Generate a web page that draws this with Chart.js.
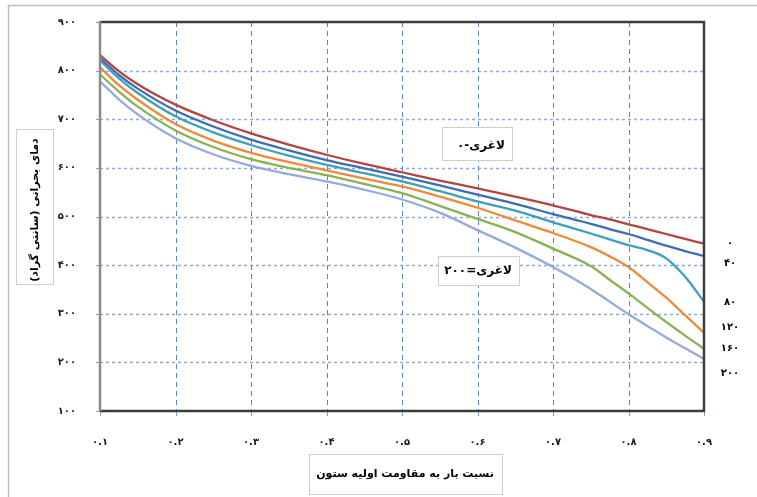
<!DOCTYPE html>
<html>
<head>
<meta charset="utf-8">
<script src="https://cdn.jsdelivr.net/npm/chart.js@4/dist/chart.umd.min.js"></script>
<style>
  html, body { margin: 0; padding: 0; background: #fff; }
  #wrap { width: 757px; height: 497px; }
</style>
</head>
<body>
<div id="wrap"><canvas id="c" width="757" height="497"></canvas></div>
<script>
// نسبت بار به مقاومت اولیه ستون
const loadRatio = [0.1, 0.125, 0.15, 0.2, 0.25, 0.3, 0.35, 0.4, 0.45, 0.5, 0.55, 0.6, 0.65, 0.7, 0.75, 0.775, 0.8, 0.825, 0.85, 0.875, 0.9];
// لاغری
const slenderness = [0, 40, 80, 120, 160, 200];
const temp0 = [832, 799, 772, 730, 698, 671, 648, 627, 608, 591, 574, 558, 541, 523, 503, 494, 484, 474, 464, 454, 444];
const temp40 = [826, 791, 763, 718, 685, 658, 636, 616, 599, 582, 564, 545, 526, 505, 485, 474, 464, 452, 440, 429, 419];
const temp80 = [821, 784, 754, 706, 673, 647, 625, 606, 589, 572, 552, 531, 512, 488, 465, 453, 441, 431, 414, 376, 325];
const temp120 = [807, 770, 740, 690, 656, 631, 612, 595, 578, 562, 541, 518, 492, 466, 437, 418, 396, 365, 333, 297, 261];
const temp160 = [792, 757, 726, 677, 643, 618, 600, 585, 567, 548, 522, 495, 468, 434, 398, 370, 342, 312, 283, 255, 228];
const temp200 = [778, 741, 710, 661, 628, 604, 587, 572, 555, 535, 508, 472, 436, 396, 351, 325, 299, 275, 251, 229, 207];
const xTicks = [0.1, 0.2, 0.3, 0.4, 0.5, 0.6, 0.7, 0.8, 0.9];
const yTicks = [100, 200, 300, 400, 500, 600, 700, 800, 900];

const colors = ["#b3443f", "#3f6db3", "#3d9fc0", "#ee8a3a", "#8bb152", "#94abd9"];
const allTemps = [temp0, temp40, temp80, temp120, temp160, temp200];

const fa = (s) => String(s).replace(/[0-9]/g, (d) => "۰۱۲۳۴۵۶۷۸۹"[d]);
const FONT = "'DejaVu Sans', sans-serif";

const datasets = allTemps.map((arr, i) => ({
  label: fa(slenderness[i]),
  data: arr.map((t, j) => ({ x: loadRatio[j], y: t })),
  borderColor: colors[i],
  borderWidth: 2.3,
  pointRadius: 0,
  cubicInterpolationMode: "monotone",
  fill: false,
}));

// grid, frame and texts
const decor = {
  id: "decor",
  beforeDatasetsDraw(chart) {
    const { ctx, chartArea: a, scales } = chart;
    ctx.save();
    // horizontal grid
    ctx.strokeStyle = "#8faad8";
    ctx.lineWidth = 1.5;
    ctx.setLineDash([3, 3]);
    yTicks.forEach((v) => {
      if (v === 100 || v === 900) return;
      const y = Math.round(scales.y.getPixelForValue(v)) + 0.5;
      ctx.beginPath(); ctx.moveTo(a.left, y); ctx.lineTo(a.right, y); ctx.stroke();
    });
    // vertical grid
    ctx.strokeStyle = "#5a87c7";
    ctx.lineWidth = 1;
    ctx.setLineDash([5, 4]);
    xTicks.forEach((v) => {
      if (v === 0.1 || v === 0.9) return;
      const x = Math.round(scales.x.getPixelForValue(v)) + 0.5;
      ctx.beginPath(); ctx.moveTo(x, a.top); ctx.lineTo(x, a.bottom); ctx.stroke();
    });
    // tick marks
    ctx.setLineDash([]);
    ctx.strokeStyle = "#7f9fd0";
    xTicks.forEach((v) => {
      const x = Math.round(scales.x.getPixelForValue(v)) + 0.5;
      ctx.beginPath(); ctx.moveTo(x, a.bottom); ctx.lineTo(x, a.bottom + 5); ctx.stroke();
    });
    yTicks.forEach((v) => {
      const y = Math.round(scales.y.getPixelForValue(v)) + 0.5;
      ctx.beginPath(); ctx.moveTo(a.left - 4, y); ctx.lineTo(a.left, y); ctx.stroke();
    });
    ctx.restore();
  },
  afterDraw(chart) {
    const { ctx, chartArea: a } = chart;
    ctx.save();
    // outer light border (top and left)
    ctx.strokeStyle = "#c0c0c0";
    ctx.lineWidth = 1.5;
    ctx.beginPath(); ctx.moveTo(757, 5.5); ctx.lineTo(8.5, 5.5); ctx.lineTo(8.5, 497); ctx.stroke();

    // plot frame
    ctx.lineWidth = 2.5;
    ctx.strokeStyle = "#3c3c3c";
    ctx.beginPath();
    ctx.moveTo(a.left, a.top); ctx.lineTo(a.right, a.top); ctx.lineTo(a.right, a.bottom); ctx.lineTo(a.left, a.bottom);
    ctx.stroke();
    ctx.strokeStyle = "#8a8a8a";
    ctx.beginPath(); ctx.moveTo(a.left, a.top - 1); ctx.lineTo(a.left, a.bottom); ctx.stroke();

    const box = (x1, y1, x2, y2) => {
      ctx.fillStyle = "#fff";
      ctx.fillRect(x1, y1, x2 - x1, y2 - y1);
      ctx.strokeStyle = "#cfcfcf";
      ctx.lineWidth = 1;
      ctx.strokeRect(x1 + 0.5, y1 + 0.5, x2 - x1, y2 - y1);
    };
    ctx.textAlign = "center";
    ctx.textBaseline = "middle";

    // annotation boxes (number drawn on the left)
    box(442, 127, 512, 160);
    ctx.fillStyle = "#000";
    ctx.font = "bold 12px " + FONT;
    ctx.fillText("لاغری-" + fa(slenderness[0]), 481, 146);
    box(438, 256, 519, 285);
    ctx.fillStyle = "#000";
    ctx.fillText("لاغری=" + fa(slenderness[5]), 478, 271);

    // series labels on the right
    const labelY = [243, 263, 302, 327, 348, 373];
    ctx.font = "bold 10px " + FONT;
    slenderness.forEach((s, i) => ctx.fillText(fa(s), 730, labelY[i]));

    // x title
    box(309, 454, 502, 494);
    ctx.fillStyle = "#000";
    ctx.font = "bold 11px " + FONT;
    ctx.fillText("نسبت بار به مقاومت اولیه ستون", 405, 474);

    // y title
    box(16, 129, 53, 284);
    ctx.fillStyle = "#000";
    ctx.translate(35, 210);
    ctx.rotate(-Math.PI / 2);
    ctx.font = "bold 11px " + FONT;
    ctx.fillText("دمای بحرانی (سانتی گراد)", 0, 0);
    ctx.restore();
  },
};

new Chart(document.getElementById("c"), {
  type: "line",
  data: { datasets },
  options: {
    responsive: false,
    devicePixelRatio: 1,
    animation: false,
    layout: { padding: { top: 16, right: 53, left: 0, bottom: 0 } },
    plugins: { legend: { display: false }, tooltip: { enabled: false } },
    scales: {
      x: {
        type: "linear",
        min: 0.1,
        max: 0.9,
        grid: { display: false },
        border: { display: false },
        afterFit: (s) => { s.height = 86; },
        afterBuildTicks: (s) => { s.ticks = xTicks.map((v) => ({ value: v })); },
        ticks: {
          padding: 17,
          color: "#1a1a1a",
          font: { family: FONT, size: 10, weight: "bold" },
          callback: (v) => fa(v.toFixed(1)),
        },
      },
      y: {
        min: 100,
        max: 900,
        grid: { display: false },
        border: { display: false },
        afterFit: (s) => { s.width = 100; },
        afterBuildTicks: (s) => { s.ticks = yTicks.map((v) => ({ value: v })); },
        ticks: {
          padding: 16,
          color: "#1a1a1a",
          font: { family: FONT, size: 10, weight: "bold" },
          callback: (v) => fa(v),
        },
      },
    },
  },
  plugins: [decor],
});
</script>
</body>
</html>
